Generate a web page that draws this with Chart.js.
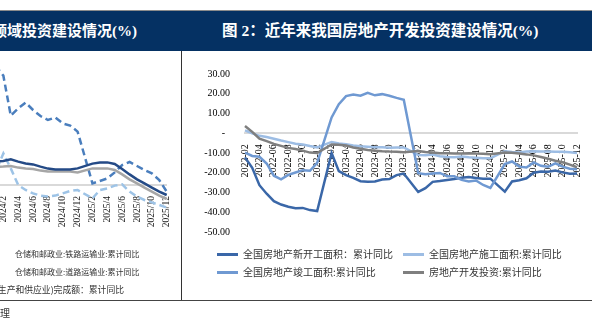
<!DOCTYPE html>
<html>
<head>
<meta charset="utf-8">
<script src="https://cdn.jsdelivr.net/npm/chart.js@4.4.1/dist/chart.umd.min.js"></script>
<style>
  html, body { margin: 0; padding: 0; background: #fff; }
  #page { position: relative; width: 592px; height: 326px; overflow: hidden; }
  .rule { position: absolute; background: #555; }
  .header { position: absolute; left: 0; top: 11px; width: 592px; height: 40px; background: #053163; }
  .title { position: absolute; top: 11px; height: 40px; line-height: 40px; color: #fff; font-size: 15.5px; font-weight: bold; white-space: nowrap; font-family: 'Liberation Serif', 'Noto Sans CJK SC', serif; }
  canvas { position: absolute; }
  .lg { position: absolute; height: 14px; line-height: 14px; font-family: 'Noto Sans CJK SC', sans-serif; color: #333; white-space: nowrap; }
  .lg i { position: absolute; left: 0; top: 6px; width: 21px; height: 2.5px; }
  .lg span { position: absolute; left: 26px; top: 0; font-size: 10px; }
  .note { position: absolute; font-family: 'Noto Sans CJK SC', sans-serif; font-size: 8px; color: #333; white-space: nowrap; line-height: 12px; }
</style>
</head>
<body>
<div id="page">
  <div class="rule" style="left:0; top:10px; width:592px; height:1px; background:#8c8c8c;"></div>
  <div class="header"></div>
  <div class="title" style="right:455px; font-size:15px;">领域投资建设情况(%)</div>
  <div class="title" style="left:222px;">图 2：近年来我国房地产开发投资建设情况(%)</div>

  <canvas id="left-chart" width="214" height="200" style="left:-32px; top:53px;"></canvas>
  <canvas id="right-chart" width="409" height="200" style="left:183px; top:53px;"></canvas>

  <div class="rule" style="left:181px; top:51px; width:1px; height:250px; background:#333;"></div>
  <div class="rule" style="left:0; top:300px; width:592px; height:1px; background:#444;"></div>

  <div class="note" style="left:15px; top:248px;">仓储和邮政业:铁路运输业:累计同比</div>
  <div class="note" style="left:15px; top:266px;">仓储和邮政业:道路运输业:累计同比</div>
  <div class="note" style="right:468px; top:284px; font-size:8.8px;">生产和供应业)完成额：累计同比</div>
  <div class="note" style="left:0; top:307px; font-size:10px;">理</div>

  <div id="legend"></div>
</div>

<script>
// Right chart: 2022-02 .. 2025-12, January has no data (Jan-Feb combined)
const months = [
  '2022-02', '2022-03', '2022-04', '2022-05', '2022-06', '2022-07', '2022-08', '2022-09', '2022-10', '2022-11', '2022-12',
  '2023-01', '2023-02', '2023-03', '2023-04', '2023-05', '2023-06', '2023-07', '2023-08', '2023-09', '2023-10', '2023-11', '2023-12',
  '2024-01', '2024-02', '2024-03', '2024-04', '2024-05', '2024-06', '2024-07', '2024-08', '2024-09', '2024-10', '2024-11', '2024-12',
  '2025-01', '2025-02', '2025-03', '2025-04', '2025-05', '2025-06', '2025-07', '2025-08', '2025-09', '2025-10', '2025-11', '2025-12'
];

const newStartArea = [
  -12.2, -17.5, -26.3, -30.6, -34.4, -36.1, -37.2, -38.0, -37.8, -38.9, -39.4,
  null, -10.0, -19.2, -21.2, -22.6, -24.3, -24.5, -24.4, -23.4, -23.2, -21.2, -20.4,
  null, -29.7, -27.8, -24.6, -24.2, -23.7, -23.2, -22.5, -22.2, -22.6, -23.0, -23.0,
  null, -29.6, -24.4, -23.8, -22.8, -20.0, -19.4, -19.5, -18.9, -19.8, -20.5, -20.4
];

const constructionArea = [
  1.5, 0.0, -1.3, -1.9, -2.8, -3.7, -4.5, -5.3, -5.7, -6.5, -7.2,
  null, -4.4, -5.2, -5.6, -6.2, -6.6, -6.8, -7.1, -7.1, -7.3, -7.2, -7.2,
  null, -11.0, -11.1, -10.8, -11.6, -12.0, -12.1, -11.8, -12.2, -12.4, -12.7, -12.7,
  null, -9.1, -9.5, -9.7, -9.2, -9.1, -9.2, -9.3, -9.4, -9.4, -9.6, -10.0
];

const completedArea = [
  -9.8, -11.5, -11.9, -15.3, -21.5, -23.3, -21.1, -19.9, -18.7, -19.0, -15.0,
  null, 8.0, 14.7, 18.8, 19.6, 19.0, 20.5, 19.2, 19.8, 19.0, 17.9, 17.0,
  null, -20.2, -20.7, -20.4, -20.1, -21.8, -21.8, -23.6, -24.4, -23.9, -26.2, -27.7,
  null, -15.6, -14.3, -16.9, -17.3, -14.8, -16.5, -17.0, -15.3, -16.9, -18.0, -18.2
];

const investment = [
  3.7, 0.7, -2.7, -4.0, -5.4, -6.4, -7.4, -8.0, -8.8, -9.8, -10.0,
  null, -5.7, -5.8, -6.2, -7.2, -7.9, -8.5, -8.8, -9.1, -9.3, -9.4, -9.6,
  null, -9.0, -9.5, -9.8, -10.1, -10.1, -10.2, -10.2, -10.1, -10.3, -10.4, -10.6,
  null, -9.8, -9.9, -10.3, -10.7, -11.2, -12.0, -12.9, -13.9, -14.7, -15.9, -17.2
];

// Left chart (partly visible): 2023/12 .. 2025/12
const leftMonths = [
  '2023/12', '2024/1', '2024/2', '2024/3', '2024/4', '2024/5', '2024/6', '2024/7', '2024/8', '2024/9', '2024/10', '2024/11', '2024/12',
  '2025/1', '2025/2', '2025/3', '2025/4', '2025/5', '2025/6', '2025/7', '2025/8', '2025/9', '2025/10', '2025/11', '2025/12'
];
const leftSolidDark = [11.5, null, 12.0, 12.8, 11.7, 10.8, 10.3, 9.2, 8.2, 7.8, 7.8, 7.8, 8.3, null, 10.7, 11.3, 11.3, 10.5, 8.0, 5.3, 2.8, 0.8, -1.3, -3.3, -5.0];
const leftSolidGray = [8.8, null, 9.2, 9.5, 8.7, 8.3, 8.0, 7.2, 6.7, 6.7, 6.7, 6.7, 6.3, null, 8.3, 8.3, 8.3, 7.5, 5.3, 2.8, 0.8, -1.3, -3.3, -5.3, -7.0];
const leftDashed = [64.0, null, 54.7, 34.7, 38.3, 41.2, 37.5, 34.5, 32.5, 33.8, 30.8, 29.7, 26.7, null, 0.8, 2.0, 3.3, 6.3, 10.0, 11.5, 9.5, 7.5, 5.8, 2.5, -3.3];
const leftDashedLight = [-2.0, null, 15.8, 8.3, 0.0, -2.5, -4.2, -5.3, -5.8, -5.3, -4.2, -3.0, -2.5, null, -6.7, -2.5, -1.7, -0.3, 0.3, -3.3, -5.8, -7.5, -8.7, -10.0, -11.3];

Chart.defaults.font.family = "'Liberation Serif', 'Times New Roman', serif";
Chart.defaults.color = '#000';

const rightSeries = [
  { label: '全国房地产新开工面积：累计同比', data: newStartArea, color: '#3a67a8', order: 4 },
  { label: '全国房地产施工面积:累计同比', data: constructionArea, color: '#9dbde4', order: 3 },
  { label: '全国房地产竣工面积:累计同比', data: completedArea, color: '#6f99d2', order: 2 },
  { label: '房地产开发投资:累计同比', data: investment, color: '#7f7f7f', order: 1 }
];

// Legend slots (page coordinates)
const legendSlots = [
  { left: 217, top: 247 },
  { left: 403, top: 247 },
  { left: 217, top: 265 },
  { left: 403, top: 265 }
];

function lineDataset(s, extra) {
  return Object.assign({
    label: s.label,
    data: s.data,
    borderColor: s.color,
    backgroundColor: s.color,
    borderWidth: 2.5,
    pointRadius: 0,
    tension: 0,
    spanGaps: true,
    order: s.order
  }, extra || {});
}

function formatY(v) {
  if (v === 0) return '-  ';
  return v.toFixed(2);
}

function setupRightChart() {
  const ctx = document.getElementById('right-chart').getContext('2d');
  new Chart(ctx, {
    type: 'line',
    data: {
      labels: months,
      datasets: rightSeries.map(s => lineDataset(s))
    },
    options: {
      responsive: false,
      animation: false,
      layout: { padding: { top: 20.5, right: 6, bottom: 13, left: 0 } },
      plugins: { legend: { display: false }, tooltip: { enabled: false } },
      scales: {
        x: {
          position: { y: 0 },
          grid: { display: false },
          border: { display: true, color: '#d9d9d9', width: 2 },
          ticks: {
            autoSkip: false,
            minRotation: 90,
            maxRotation: 90,
            padding: 3,
            font: { size: 10 },
            callback: (v, i) => (i % 2 === 0 ? months[i] : null)
          }
        },
        y: {
          min: -50,
          max: 30,
          grid: { display: false, drawTicks: false },
          border: { display: false },
          ticks: { stepSize: 10, padding: 15, font: { size: 10 }, callback: formatY },
          afterFit: scale => { scale.width = 62; }
        }
      }
    }
  });
}

function setupLeftChart() {
  const ctx = document.getElementById('left-chart').getContext('2d');
  const dash = [7, 4];
  new Chart(ctx, {
    type: 'line',
    data: {
      labels: leftMonths,
      datasets: [
        lineDataset({ label: 'a', data: leftSolidDark, color: '#244a86', order: 1 }),
        lineDataset({ label: 'b', data: leftSolidGray, color: '#a6a6a6', order: 2 }),
        lineDataset({ label: 'c', data: leftDashed, color: '#4a7ebd', order: 3 }, { borderDash: dash }),
        lineDataset({ label: 'd', data: leftDashedLight, color: '#9dc3e6', order: 4 }, { borderDash: dash })
      ]
    },
    options: {
      responsive: false,
      animation: false,
      layout: { padding: { top: 2, right: 15.3, bottom: 8, left: 20.5 } },
      plugins: { legend: { display: false }, tooltip: { enabled: false } },
      scales: {
        x: {
          position: { y: 0 },
          grid: { display: false },
          border: { display: true, color: '#d9d9d9', width: 2 },
          ticks: {
            autoSkip: false,
            minRotation: 90,
            maxRotation: 90,
            padding: 3,
            color: '#222',
            font: { size: 9.5 },
            callback: (v, i) => (i % 2 === 0 ? leftMonths[i] : null)
          }
        },
        y: { display: false, min: -30, max: 65 }
      }
    }
  });
}

// HTML legend for the right chart, laid out in two columns
function buildLegend() {
  const box = document.getElementById('legend');
  rightSeries.forEach((s, i) => {
    const item = document.createElement('div');
    item.className = 'lg';
    item.style.left = legendSlots[i].left + 'px';
    item.style.top = legendSlots[i].top + 'px';
    const sample = document.createElement('i');
    sample.style.background = s.color;
    const text = document.createElement('span');
    text.textContent = s.label;
    item.appendChild(sample);
    item.appendChild(text);
    box.appendChild(item);
  });
}

setupLeftChart();
setupRightChart();
buildLegend();
</script>
</body>
</html>
